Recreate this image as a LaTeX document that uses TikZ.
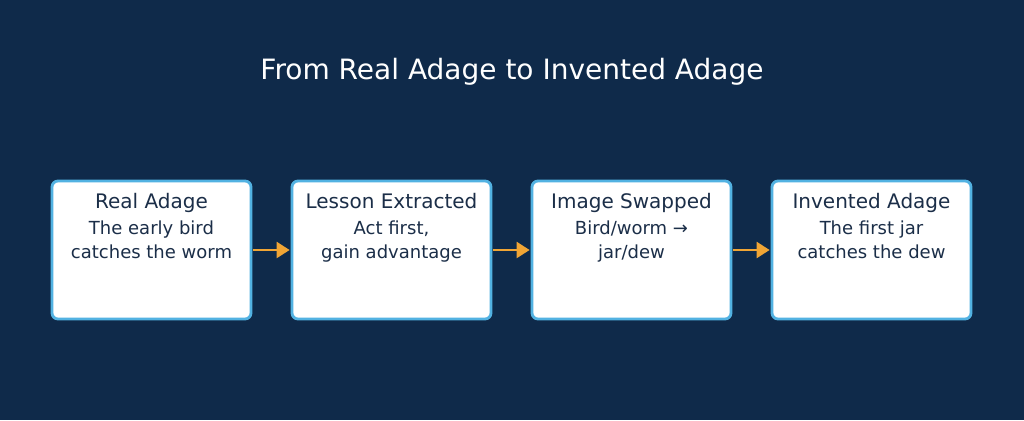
\documentclass[tikz,border=0pt]{standalone}
\usepackage{fontspec}
\setmainfont{DejaVu Sans}
\usetikzlibrary{positioning,arrows.meta}

\definecolor{bgnavy}{HTML}{0F2A4A}
\definecolor{boxblue}{HTML}{52B2E2}
\definecolor{inknavy}{HTML}{1B2E48}
\definecolor{flowamber}{HTML}{F0A535}

\begin{document}
\begin{tikzpicture}[x=1pt, y=1pt,
    stage/.style={draw=boxblue, line width=2.8pt, fill=white, rounded corners=6pt,
      minimum width=199pt, minimum height=138pt, inner sep=0pt},
    head/.style={text=inknavy, font=\fontsize{20}{24}\selectfont, anchor=base, inner sep=0pt},
    body/.style={text=inknavy, font=\fontsize{18}{23.5}\selectfont, align=center, anchor=base, inner sep=0pt},
    flow/.style={draw=flowamber, line width=2.4pt, -{Triangle[length=13pt, width=16pt]}}]
  \fill[bgnavy] (0,0) rectangle (1024,420);
  \node[text=white, font=\fontsize{28}{32}\selectfont] (title) at (512,348) {From Real Adage to Invented Adage};
  % the four stages
  \foreach \i/\x/\hd/\bd in {1/151.5/Real Adage/{The early bird\\catches the worm},
      2/391.5/Lesson Extracted/{Act first,\\gain advantage},
      3/631.5/Image Swapped/{Bird/worm →\\jar/dew},
      4/871.5/Invented Adage/{The first jar\\catches the dew}} {
    \node[stage] (s\i) at (\x,170) {};
    \node[head] (h\i) at ([yshift=-29pt]s\i.north) {\hd};
    \node[body] (b\i) at ([yshift=-78.5pt]s\i.north) {\bd};
  }
  % arrows between stages
  \foreach \a/\b in {1/2, 2/3, 3/4}
    \draw[flow] ([xshift=1pt]s\a.east) -- ([xshift=-1pt]s\b.west);
\end{tikzpicture}
\end{document}
